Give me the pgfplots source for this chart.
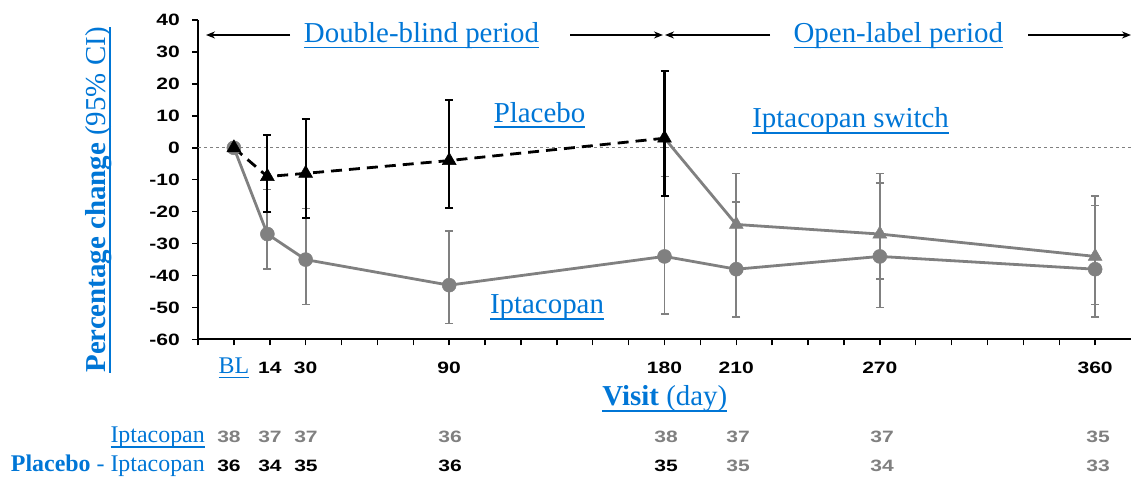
\documentclass[border=0pt]{standalone}
\usepackage{fontspec}
\setmainfont{Liberation Serif}
\newfontfamily\numfont{Liberation Sans}[FakeStretch=1.28]
\usepackage{pgfplots}
\pgfplotsset{compat=1.18}
\usepackage{pgfplotstable}
\usetikzlibrary{arrows.meta}
\definecolor{cblue}{RGB}{0,118,214}
\definecolor{cgrey}{RGB}{128,128,128}
\newcommand\ul[1]{\leavevmode\setbox0\hbox{#1}\rlap{\rule[-0.2em]{\wd0}{0.065em}}\box0}

\pgfplotstableread{
x y lo hi
0 0 0 0
14 -27 -38 -13
30 -35 -49 -19
90 -43 -55 -26
180 -34 -52 -9
210 -38 -53 -17
270 -34 -50 -11
360 -38 -53 -18
}\iptadata

\pgfplotstableread{
x y lo hi
0 0 0 0
14 -9 -20 4
30 -8 -22 9
90 -4 -19 15
180 3 -15 24
}\placdata

\pgfplotstableread{
x y lo hi
180 3 3 3
210 -24 -37 -8
270 -27 -41 -8
360 -34 -49 -15
}\switchdata

\begin{document}
\begin{tikzpicture}[x=1bp,y=1bp]
\useasboundingbox (0,0) rectangle (1131,477);
\begin{axis}[
  at={(198bp,137.5bp)}, anchor=south west,
  scale only axis, width=933bp, height=319.5bp,
  xmin=-15, xmax=375, ymin=-60, ymax=40,
  axis x line*=bottom, axis y line*=left,
  axis line style={line width=2bp, black},
  tick align=outside, major tick length=6bp,
  tick style={line width=1.5bp, black},
  xtick={-15,0,...,360},
  xticklabels={,{\rmfamily\mdseries\fontsize{24}{24}\selectfont\color{cblue}\ul{BL}},14,30,,,,90,,,,,,180,,210,,,,270,,,,,,360},
  ytick={-60,-50,...,40},
  yticklabels={-60,-50,-40,-30,-20,-10,0,10,20,30,40},
  ticklabel style={font=\numfont\bfseries\fontsize{16.5}{16.5}\selectfont},
  yticklabel style={anchor=east, inner sep=0pt, xshift=-12bp},
  xticklabel style={anchor=base, inner sep=0pt, yshift=-28bp},
  clip=false,
]
\draw[cgrey, line width=1bp, dash pattern=on 3bp off 3bp] (axis cs:-15,0) -- (axis cs:375,0);

\addplot[cgrey, line width=2.8bp, mark=*, mark size=7bp,
  mark options={solid, fill=cgrey, draw=cgrey, line width=0.5bp},
  error bars/.cd, y dir=both, y explicit,
  error bar style={line width=1.8bp, cgrey, solid},
  error mark options={rotate=90, cgrey, line width=1.6bp, mark size=4bp}]
  table[x=x, y=y, y error plus expr=\thisrow{hi}-\thisrow{y}, y error minus expr=\thisrow{y}-\thisrow{lo}] {\iptadata};

\addplot[cgrey, line width=2.8bp, no marks] table[x=x, y=y] {\switchdata};
\addplot[cgrey, only marks, mark=triangle*, mark size=8bp,
  mark options={solid, fill=cgrey, draw=cgrey, line width=0.5bp},
  skip coords between index={0}{1},
  error bars/.cd, y dir=both, y explicit,
  error bar style={line width=1.8bp, cgrey, solid},
  error mark options={rotate=90, cgrey, line width=1.6bp, mark size=4bp}]
  table[x=x, y=y, y error plus expr=\thisrow{hi}-\thisrow{y}, y error minus expr=\thisrow{y}-\thisrow{lo}] {\switchdata};

\addplot[black, line width=2.8bp, dash pattern=on 11bp off 7bp, mark=triangle*, mark size=8bp,
  mark options={solid, fill=black, line width=0.5bp},
  error bars/.cd, y dir=both, y explicit,
  error bar style={line width=2.2bp, black, solid},
  error mark options={rotate=90, black, solid, line width=2bp, mark size=4bp}]
  table[x=x, y=y, y error plus expr=\thisrow{hi}-\thisrow{y}, y error minus expr=\thisrow{y}-\thisrow{lo}] {\placdata};
\end{axis}

% period annotations
\node[anchor=base, inner sep=0pt, font=\fontsize{29}{29}\selectfont, text=cblue] at (421.5,434.3) {\ul{Double-blind period}};
\node[anchor=base, inner sep=0pt, font=\fontsize{29}{29}\selectfont, text=cblue] at (898.3,434.3) {\ul{Open-label period}};
\draw[line width=1.8bp, -{Stealth[length=9bp, width=7bp]}] (290,442) -- (206,442);
\draw[line width=1.8bp, -{Stealth[length=9bp, width=7bp]}] (570,442) -- (663,442);
\draw[line width=1.8bp, -{Stealth[length=9bp, width=7bp]}] (770,442) -- (665,442);
\draw[line width=1.8bp, -{Stealth[length=9bp, width=7bp]}] (1028,442) -- (1131,442);

% series labels
\node[anchor=base, inner sep=0pt, font=\fontsize{29}{29}\selectfont, text=cblue] at (539.5,354.5) {\ul{Placebo}};
\node[anchor=base, inner sep=0pt, font=\fontsize{29}{29}\selectfont, text=cblue] at (850.6,349) {\ul{Iptacopan switch}};
\node[anchor=base, inner sep=0pt, font=\fontsize{29}{29}\selectfont, text=cblue] at (547,163) {\ul{Iptacopan}};

% axis titles
\node[anchor=base, inner sep=0pt, font=\fontsize{29}{29}\selectfont, text=cblue] at (664.8,71) {\ul{\textbf{Visit} (day)}};
\node[anchor=base, inner sep=0pt, rotate=90, font=\fontsize{29}{29}\selectfont, text=cblue] at (105,277) {\ul{\textbf{Percentage change} (95\% CI)}};

% number at risk
\node[anchor=base east, inner sep=0pt, font=\fontsize{24}{24}\selectfont, text=cblue] at (205,34) {\ul{Iptacopan}};
\node[anchor=base east, inner sep=0pt, font=\fontsize{24}{24}\selectfont, text=cblue] at (205,5) {\textbf{Placebo} - Iptacopan};
\foreach \xx/\n in {229/38,270/37,306/37,450/36,666/38,738/37,882/37,1098/35}
  \node[anchor=base, inner sep=0pt, font=\numfont\bfseries\fontsize{16.5}{16.5}\selectfont, text=cgrey] at (\xx,34) {\n};
\foreach \xx/\n in {229/36,270/34,306/35,450/36,666/35}
  \node[anchor=base, inner sep=0pt, font=\numfont\bfseries\fontsize{16.5}{16.5}\selectfont, text=black] at (\xx,5) {\n};
\foreach \xx/\n in {738/35,882/34,1098/33}
  \node[anchor=base, inner sep=0pt, font=\numfont\bfseries\fontsize{16.5}{16.5}\selectfont, text=cgrey] at (\xx,5) {\n};
\end{tikzpicture}
\end{document}
